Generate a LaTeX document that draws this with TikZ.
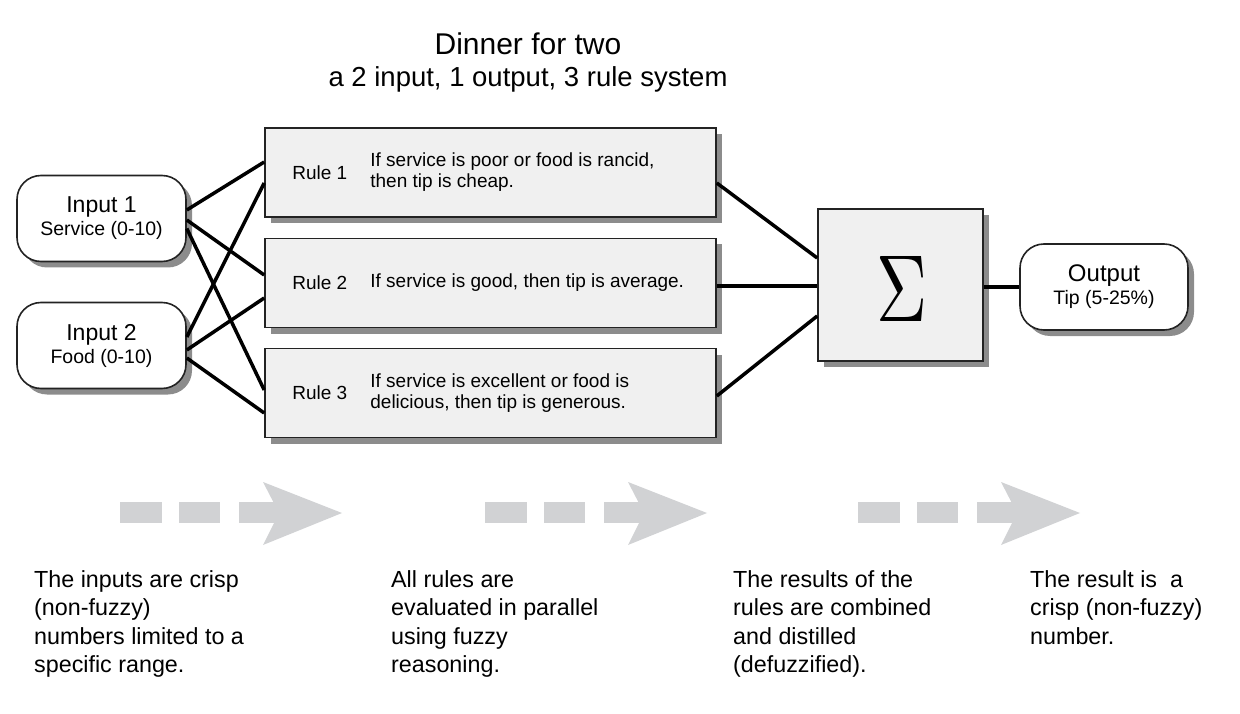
\documentclass[tikz,border=0pt]{standalone}
\usepackage{fontspec}
\setmainfont{Liberation Sans}
\usetikzlibrary{calc}
\usetikzlibrary{shadows}
\definecolor{boxgray}{RGB}{240,240,240}
\definecolor{shadowgray}{RGB}{140,140,140}
\definecolor{arrowgray}{RGB}{209,210,212}
\definecolor{edgegray}{RGB}{35,35,35}
\newcommand\fsize[2]{\fontsize{#1}{#2}\selectfont}

\begin{document}
\begin{tikzpicture}[x=1pt,y=-1pt,
  box/.style={draw=edgegray,line width=1.6pt,inner sep=0pt,
    drop shadow={shadow xshift=6pt,shadow yshift=-6pt,fill=shadowgray,opacity=1}},
  rulebox/.style={box,fill=boxgray,minimum width=451pt,minimum height=89pt},
  endbox/.style={box,fill=white,rounded corners=24pt,minimum width=169pt,minimum height=86pt,align=center,font=\fsize{19.5}{23}},
  rulelab/.style={anchor=west,inner sep=0pt,align=left,font=\fsize{19}{21}},
  link/.style={line width=3.5pt,black},
  note/.style={anchor=base west,align=left,inner sep=0pt,font=\fsize{23.3}{28.5}}]

\useasboundingbox (0,0) rectangle (1240,714);

\node (title) at (528,55) [anchor=base,font=\fsize{30}{36}] {Dinner for two};
\node (subtitle) at (528,87) [anchor=base,font=\fsize{27.5}{33}] {a 2 input, 1 output, 3 rule system};

\node (in1) [endbox] at (101.5,218.5) {{\fsize{23}{23}\selectfont Input 1}\\Service (0-10)};
\node (in2) [endbox] at (101.5,345.5) {{\fsize{23}{23}\selectfont Input 2}\\Food (0-10)};

\node (rule1) [rulebox] at (490.5,172.5) {};
\node (rule2) [rulebox] at (490.5,283) {};
\node (rule3) [rulebox] at (490.5,393) {};
\node (lab1) [rulelab] at ($(rule1.west)+(28,0)$) {Rule 1};
\node (lab2) [rulelab] at ($(rule2.west)+(28,0)$) {Rule 2};
\node (lab3) [rulelab] at ($(rule3.west)+(28,0)$) {Rule 3};
\node (if1) [rulelab] at ($(rule1.west)+(106,0)$) {If service is poor or food is rancid,\\then tip is cheap.};
\node (if2) [rulelab] at ($(rule2.west)+(106,0)$) {If service is good, then tip is average.};
\node (if3) [rulelab] at ($(rule3.west)+(106,0)$) {If service is excellent or food is\\delicious, then tip is generous.};

\node (sum) [box,fill=boxgray,minimum width=165pt,minimum height=152pt] at (900.5,285) {};
\node (sigma) at ($(sum.center)+(2,4)$) {\resizebox{51pt}{65pt}{$\Sigma$}};

\node (out) [endbox,minimum width=168pt] at (1104,287) {{\fsize{24}{24}\selectfont Output}\\Tip (5-25\%)};

% inputs to rules
\draw[link] ($(in1.east)+(0,-8.5)$) -- ($(rule1.west)+(0,-10.5)$);
\draw[link] ($(in1.east)+(0,1.5)$) -- ($(rule2.west)+(0,-8)$);
\draw[link] ($(in1.east)+(0,10)$) -- ($(rule3.west)+(0,-3)$);
\draw[link] ($(in2.east)+(0,-8.5)$) -- ($(rule1.west)+(0,10.5)$);
\draw[link] ($(in2.east)+(0,4.5)$) -- ($(rule2.west)+(0,15)$);
\draw[link] ($(in2.east)+(0,12.5)$) -- ($(rule3.west)+(0,20)$);
% rules to sum
\draw[link] ($(rule1.east)+(0,10.5)$) -- ($(sum.west)+(0,-27)$);
\draw[link] ($(rule2.east)+(0,3)$) -- ($(sum.west)+(0,1)$);
\draw[link] ($(rule3.east)+(0,3)$) -- ($(sum.west)+(0,31)$);
\draw[link] ($(sum.east)+(0,2)$) -- (out.west);

% grey flow arrows
\foreach \ax in {120,485,858} {
  \fill[arrowgray] (\ax,502) rectangle +(42,21);
  \fill[arrowgray] (\ax+59,502) rectangle +(41,21);
  \fill[arrowgray] (\ax+119,502) rectangle +(42,21);
  \fill[arrowgray] (\ax+143,482) -- (\ax+222,513) -- (\ax+143,545) -- (\ax+159,513) -- cycle;
}

% notes (base = last line)
\node (note1) [note] at (34,672.5) {The inputs are crisp\\(non-fuzzy)\\numbers limited to a\\specific range.};
\node (note2) [note] at (391,672.5) {All rules are\\evaluated in parallel\\using fuzzy\\reasoning.};
\node (note3) [note] at (733,672.5) {The results of the\\rules are combined\\and distilled\\(defuzzified).};
\node (note4) [note] at (1030,644) {The result is~ a\\crisp (non-fuzzy)\\number.};

\end{tikzpicture}
\end{document}
